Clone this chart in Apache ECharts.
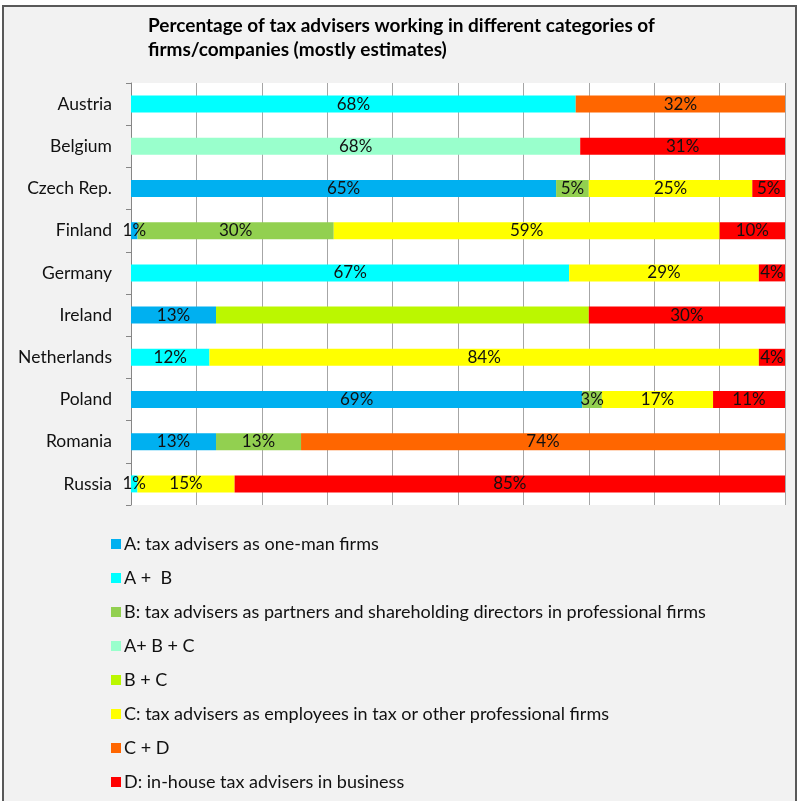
<!DOCTYPE html>
<html>
<head>
<meta charset="utf-8">
<script src="https://cdn.jsdelivr.net/npm/echarts@6/dist/echarts.min.js"></script>
<style>
  html, body { margin: 0; padding: 0; background: #fff; }
  #frame {
    position: absolute; left: 2px; top: 5px; width: 791px; height: 796px;
    border-left: 2px solid #595959; border-top: 2px solid #595959; border-right: 2px solid #595959;
    background: #F2F2F2;
  }
  #chart { width: 791px; height: 794px; }
</style>
</head>
<body>
<div id="frame"><div id="chart"></div></div>
<script>
var countries = ['Austria', 'Belgium', 'Czech Rep.', 'Finland', 'Germany', 'Ireland', 'Netherlands', 'Poland', 'Romania', 'Russia'];

var seriesNames = [
  'A: tax advisers as one-man firms',
  'A +  B',
  'B: tax advisers as partners and shareholding directors in professional firms',
  'A+ B + C',
  'B + C',
  'C: tax advisers as employees in tax or other professional firms',
  'C + D',
  'D: in-house tax advisers in business'
];

var colors = ['#00B0F0', '#00FFFF', '#92D050', '#99FFCC', '#BBF700', '#FFFF00', '#FF6600', '#FF0000'];

// values per country, in the same order as countries (0 = not present)
var valA   = [0, 0, 65, 1, 0, 13, 0, 69, 13, 0];
var valAB  = [68, 0, 0, 0, 67, 0, 12, 0, 0, 1];
var valB   = [0, 0, 5, 30, 0, 0, 0, 3, 13, 0];
var valABC = [0, 68, 0, 0, 0, 0, 0, 0, 0, 0];
var valBC  = [0, 0, 0, 0, 0, 57, 0, 0, 0, 0];
var valC   = [0, 0, 25, 59, 29, 0, 84, 17, 0, 15];
var valCD  = [32, 0, 0, 0, 0, 0, 0, 0, 74, 0];
var valD   = [0, 31, 5, 10, 4, 30, 4, 11, 0, 85];

// the B + C share of Ireland carries no label in the original
var hiddenLabels = [[4, 5]];

var allVals = [valA, valAB, valB, valABC, valBC, valC, valCD, valD];

// each bar is drawn as share of its row total (100% stacked)
var totals = countries.map(function (c, i) {
  return allVals.reduce(function (s, arr) { return s + arr[i]; }, 0);
});

var font = 'Lato';

var series = allVals.map(function (arr, si) {
  return {
    name: seriesNames[si],
    type: 'bar',
    stack: 'all',
    barWidth: 17,
    itemStyle: { color: colors[si] },
    label: {
      show: true,
      position: 'inside',
      color: '#111',
      fontFamily: font,
      fontSize: 17,
      formatter: function (p) {
        var raw = arr[p.dataIndex];
        var hide = hiddenLabels.some(function (h) { return h[0] === si && h[1] === p.dataIndex; });
        return (raw > 0 && !hide) ? raw + '%' : '';
      }
    },
    data: arr.map(function (v, i) { return v > 0 ? v / totals[i] * 100 : null; })
  };
});

var chart = echarts.init(document.getElementById('chart'));
chart.setOption({
  animation: false,
  backgroundColor: '#F2F2F2',
  textStyle: { fontFamily: font },
  title: {
    text: 'Percentage of tax advisers working in different categories of\nfirms/companies (mostly estimates)',
    left: 144,
    top: 7,
    padding: 0,
    textStyle: { fontFamily: font, fontSize: 19, fontWeight: 'bold', color: '#000', lineHeight: 24 }
  },
  legend: {
    orient: 'vertical',
    left: 102,
    top: 523,
    itemWidth: 10,
    itemHeight: 10,
    itemGap: 16,
    icon: 'rect',
    textStyle: { fontFamily: font, fontSize: 18, lineHeight: 18, color: '#111', padding: [0, 0, 0, -2] },
    data: seriesNames
  },
  grid: {
    left: 127,
    right: 10,
    top: 76,
    bottom: 296,
    show: true,
    backgroundColor: '#fff',
    borderWidth: 0
  },
  xAxis: {
    type: 'value',
    min: 0,
    max: 100,
    interval: 10,
    axisLabel: { show: false },
    axisLine: { show: false },
    axisTick: { show: false },
    splitLine: { lineStyle: { color: '#A6A6A6', width: 1 } }
  },
  yAxis: {
    type: 'category',
    inverse: true,
    data: countries,
    axisLine: { show: true, lineStyle: { color: '#868686' } },
    axisTick: { show: true, length: 5, lineStyle: { color: '#868686' } },
    axisLabel: { color: '#111', fontFamily: font, fontSize: 17.5, margin: 19 }
  },
  series: series
});
</script>
</body>
</html>
